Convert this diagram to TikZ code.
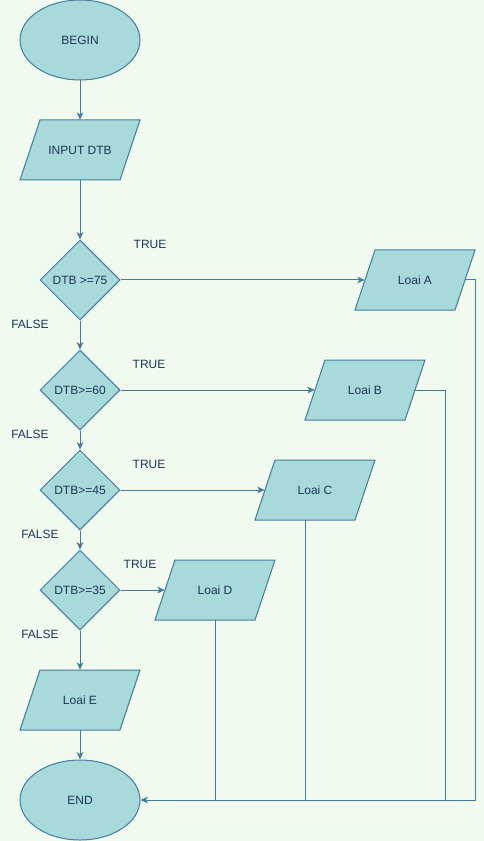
\documentclass[tikz,border=0pt]{standalone}
\usepackage{fontspec}
\setmainfont{Liberation Sans}
\usetikzlibrary{shapes.geometric,arrows.meta}
\definecolor{bgc}{HTML}{F1FAEE}
\definecolor{fillc}{HTML}{A8DADC}
\definecolor{strokec}{HTML}{457B9D}
\definecolor{textc}{HTML}{1D3557}
\newcommand{\paranode}[4]{%
  \path[fill=fillc,draw=strokec,line width=0.75pt] (#2-40,#3-30) -- (#2+60,#3-30) -- (#2+40,#3+30) -- (#2-60,#3+30) -- cycle;
  \node[paratext] (#1) at (#2,#3) {#4};}
\begin{document}
\begin{tikzpicture}[x=0.75pt,y=-0.75pt,
  every node/.style={font=\fontsize{9pt}{11pt}\selectfont, text=textc},
  term/.style={ellipse, draw=strokec, fill=fillc, line width=0.75pt, minimum width=90pt, minimum height=60pt, inner sep=0pt},
  decide/.style={diamond, aspect=1, draw=strokec, fill=fillc, line width=0.75pt, minimum width=60pt, minimum height=60pt, inner sep=0pt},
  paratext/.style={rectangle, minimum width=75pt, minimum height=45pt, inner sep=0pt},
  lbl/.style={inner sep=0pt},
  conn/.style={draw=strokec, line width=0.75pt},
  arr/.style={conn, -{Stealth[length=5.5pt,width=5pt,inset=1.5pt]}}
]
\useasboundingbox (0,0) rectangle (484,841);
\fill[bgc] (0,0) rectangle (484,841);

\node[term] (begin) at (80,40) {BEGIN};
\paranode{input}{80}{150}{INPUT DTB}
\node[decide] (d1) at (80,280) {DTB >=75};
\node[decide] (d2) at (80,390) {DTB>=60};
\node[decide] (d3) at (80,490) {DTB>=45};
\node[decide] (d4) at (80,590) {DTB>=35};
\paranode{la}{415}{280}{Loai A}
\paranode{lb}{365}{390}{Loai B}
\paranode{lc}{315}{490}{Loai C}
\paranode{ld}{215}{590}{Loai D}
\paranode{le}{80}{700}{Loai E}
\node[term] (end) at (80,800) {END};

\node[lbl] (t1) at (150,244.5) {TRUE};
\node[lbl] (f1) at (30,324.5) {FALSE};
\node[lbl] (t2) at (149,364.5) {TRUE};
\node[lbl] (f2) at (30,434.5) {FALSE};
\node[lbl] (t3) at (149,464.5) {TRUE};
\node[lbl] (f3) at (40,534.5) {FALSE};
\node[lbl] (t4) at (140,564.5) {TRUE};
\node[lbl] (f4) at (40,634.5) {FALSE};

\coordinate (ja) at (475,800);
\coordinate (jb) at (445,800);
\coordinate (jc) at (305,800);
\coordinate (jd) at (215,800);

\draw[arr] (begin) -- (input);
\draw[arr] (input) -- (d1);
\draw[arr] (d1) -- (d2);
\draw[arr] (d2) -- (d3);
\draw[arr] (d3) -- (d4);
\draw[arr] (d4) -- (le);
\draw[arr] (le) -- (end);
\draw[arr] (d1.east) -- (la.west);
\draw[arr] (d2.east) -- (lb.west);
\draw[arr] (d3.east) -- (lc.west);
\draw[arr] (d4.east) -- (ld.west);

\draw[arr] (la.east) -| (ja) -- (end.east);
\draw[conn] (lb.east) -| (jb);
\draw[conn] ([xshift=-7.5pt]lc.south) -- (jc);
\draw[conn] (ld.south) -- (jd);
\end{tikzpicture}
\end{document}
